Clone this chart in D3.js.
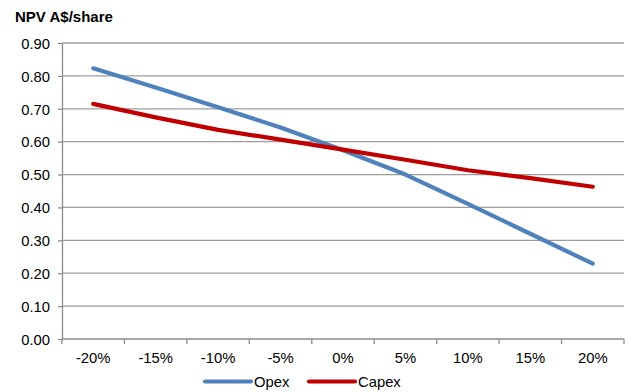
<!DOCTYPE html>
<html>
<head>
<meta charset="utf-8">
<script src="https://cdn.jsdelivr.net/npm/d3@7"></script>
<style>
  html, body { margin: 0; padding: 0; background: #fff; }
  svg { display: block; font-family: "Liberation Sans", Arial, sans-serif; }
</style>
</head>
<body>
<svg id="chart" width="632" height="392"></svg>
<script>
// NPV sensitivity to opex / capex changes
const categories = ["-20%", "-15%", "-10%", "-5%", "0%", "5%", "10%", "15%", "20%"];
const opexValues = [0.823, 0.765, 0.705, 0.643, 0.574, 0.500, 0.411, 0.320, 0.229];
const capexValues = [0.715, 0.674, 0.636, 0.606, 0.576, 0.545, 0.513, 0.489, 0.463];
const yTicks = [0, 0.1, 0.2, 0.3, 0.4, 0.5, 0.6, 0.7, 0.8, 0.9];
const seriesNames = ["Opex", "Capex"];
const seriesColors = ["#4F81BD", "#C00000"];

const svg = d3.select("#chart");
const margin = { left: 62, right: 8, top: 43, bottom: 53 };
const W = 632, H = 392;
const FS = 14.8;

const x = d3.scaleBand().domain(categories).range([margin.left, W - margin.right]);
const y = d3.scaleLinear().domain([0, 0.9]).range([H - margin.bottom, margin.top]);

// title
svg.append("text")
  .attr("x", 15).attr("y", 21.5)
  .attr("font-size", 15).attr("font-weight", "bold").attr("fill", "#000")
  .text("NPV A$/share");

// horizontal gridlines
svg.append("g").selectAll("line").data(yTicks.filter(d => d > 0)).join("line")
  .attr("x1", margin.left).attr("x2", W - margin.right)
  .attr("y1", d => y(d)).attr("y2", d => y(d))
  .attr("stroke", "#9c9c9c").attr("stroke-width", 1.3);

// y axis
const yAxis = svg.append("g")
  .attr("transform", `translate(${margin.left},0)`)
  .call(d3.axisLeft(y).tickValues(yTicks).tickFormat(d3.format(".2f")).tickSize(4).tickSizeOuter(0));
yAxis.select(".domain").attr("stroke", "#8c8c8c").attr("stroke-width", 1.3);
yAxis.selectAll(".tick line").attr("stroke", "#8c8c8c").attr("stroke-width", 1.3);
yAxis.selectAll(".tick text").attr("font-size", FS).attr("fill", "#000")
  .attr("font-family", "Liberation Sans, Arial, sans-serif").attr("x", -12).attr("dy", "0.36em");

// x axis: ticks at band boundaries, labels at band centers
const xg = svg.append("g").attr("transform", `translate(0,${y(0)})`);
xg.append("line")
  .attr("x1", margin.left).attr("x2", W - margin.right)
  .attr("stroke", "#8c8c8c").attr("stroke-width", 1.3);
const boundaries = categories.map(c => x(c)).concat([x(categories[categories.length - 1]) + x.bandwidth()]);
xg.selectAll("line.tk").data(boundaries).join("line").attr("class", "tk")
  .attr("x1", d => d).attr("x2", d => d).attr("y1", 0).attr("y2", 5)
  .attr("stroke", "#8c8c8c").attr("stroke-width", 1.3);
xg.selectAll("text").data(categories).join("text")
  .attr("x", d => x(d) + x.bandwidth() / 2).attr("y", 24)
  .attr("text-anchor", "middle").attr("font-size", FS).attr("fill", "#000")
  .text(d => d);

// series lines
const line = d3.line()
  .x((d, i) => x(categories[i]) + x.bandwidth() / 2)
  .y(d => y(d));
[opexValues, capexValues].forEach((vals, k) => {
  svg.append("path").datum(vals)
    .attr("d", line)
    .attr("fill", "none")
    .attr("stroke", seriesColors[k])
    .attr("stroke-width", 4.2)
    .attr("stroke-linecap", "round")
    .attr("stroke-linejoin", "round");
});

// legend
const legendX = [205, 309];
const lg = svg.append("g");
seriesNames.forEach((name, k) => {
  lg.append("line")
    .attr("x1", legendX[k]).attr("x2", legendX[k] + 46)
    .attr("y1", 381.5).attr("y2", 381.5)
    .attr("stroke", seriesColors[k]).attr("stroke-width", 4.2)
    .attr("stroke-linecap", "round");
  lg.append("text")
    .attr("x", legendX[k] + 49).attr("y", 387)
    .attr("font-size", FS).attr("fill", "#000")
    .text(name);
});
</script>
</body>
</html>
